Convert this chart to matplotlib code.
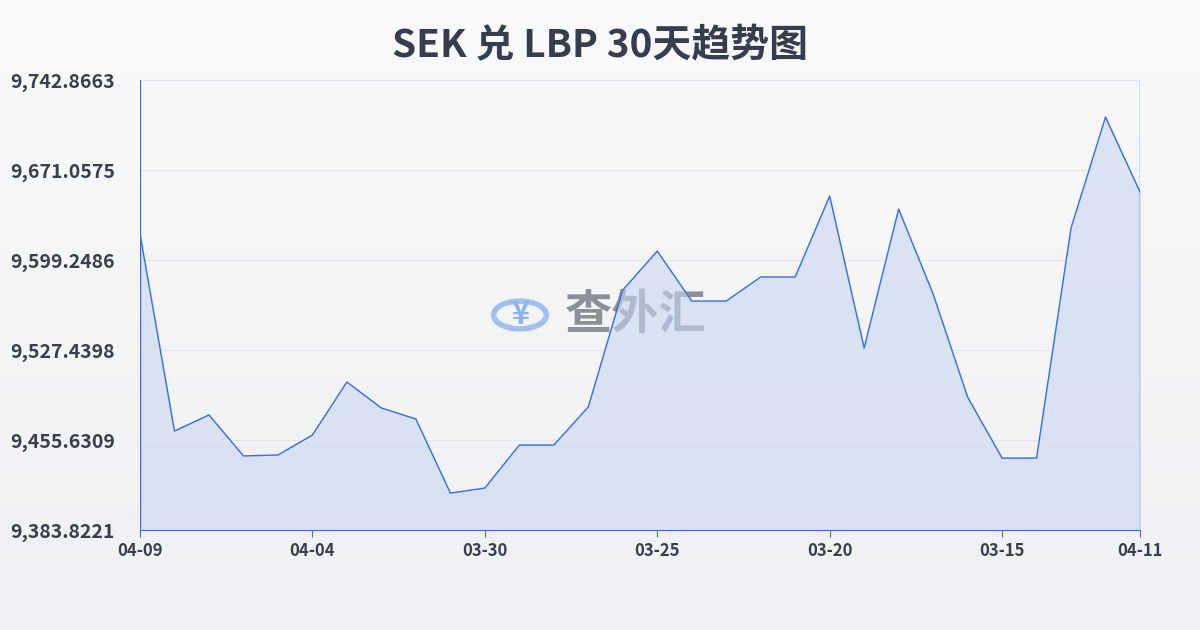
import numpy as np
import matplotlib.pyplot as plt
from matplotlib.patches import Circle

plt.rcParams['font.family'] = ['Noto Sans CJK SC', 'DejaVu Sans']

values = [9620.0, 9462.8, 9475.6, 9442.9, 9443.7, 9459.6, 9501.9, 9481.2, 9472.4, 9413.3,
          9417.3, 9451.6, 9451.6, 9482.0, 9575.3, 9606.4, 9566.5, 9566.5, 9585.7, 9585.7,
          9650.3, 9529.0, 9639.9, 9572.1, 9489.9, 9441.2, 9441.2, 9624.8, 9713.3, 9653.5]
tick_pos = [0, 5, 10, 15, 20, 25, 29]
tick_labels = ['04-09', '04-04', '03-30', '03-25', '03-20', '03-15', '04-11']
yticks = [9383.8221, 9455.6309, 9527.4398, 9599.2486, 9671.0575, 9742.8663]

fig = plt.figure(figsize=(12, 6.3), dpi=100)
bg = fig.add_axes([0, 0, 1, 1])
grad = np.linspace(0, 1, 100).reshape(-1, 1)
bg.imshow(grad, aspect='auto', cmap=plt.matplotlib.colors.LinearSegmentedColormap.from_list('g', ['#f9fafb', '#eef0f3']),
          extent=[0, 1, 0, 1])
bg.axis('off')

ax = fig.add_axes([140/1200, 100/630, 1000/1200, 450/630])
ax.patch.set_alpha(0)
x = np.arange(len(values))
ax.plot(x, values, color='#3a6fd8', lw=1)
ax.fill_between(x, values, yticks[0], color='#c9d6f2', alpha=0.6)
ax.set_xlim(0, 29)
ax.set_ylim(yticks[0], yticks[-1])
ax.set_yticks(yticks)
ax.set_yticklabels([f'{v:,.4f}' for v in yticks], fontsize=14, fontweight='bold', color='#3a3f4b')
ax.set_xticks(tick_pos)
ax.set_xticklabels(tick_labels, fontsize=12, fontweight='bold', color='#3a3f4b')
ax.grid(axis='y', color='#e3e6ea', lw=0.8)
for s in ['top', 'right', 'left']:
    ax.spines[s].set_visible(False)
ax.spines['bottom'].set_color('#3a6fd8')
ax.axvline(29, color='#3a6fd8', lw=1)
ax.axvline(0, color='#3a6fd8', lw=1)
ax.tick_params(axis='y', length=0, pad=18)
ax.tick_params(axis='x', length=5, color='#3a6fd8')

fig.text(0.5, 0.927, 'SEK 兑 LBP 30天趋势图', ha='center', va='center', fontsize=28,
         fontweight='heavy', color='#363d4d')
# watermark
bg.add_patch(Circle((520/1200, 1 - 315/630), 0.022, transform=bg.transAxes, fill=False,
                    ec='#8fb3ee', lw=4, alpha=0.8))
bg.text(520/1200, 1 - 315/630, '¥', ha='center', va='center', fontsize=22, color='#8fb3ee',
        fontweight='bold', transform=bg.transAxes)
bg.text(636/1200, 1 - 315/630, '查外汇', ha='center', va='center', fontsize=34, color='#6b6f78',
        alpha=0.75, fontweight='bold', transform=bg.transAxes)

fig.savefig('out.png', dpi=100)
